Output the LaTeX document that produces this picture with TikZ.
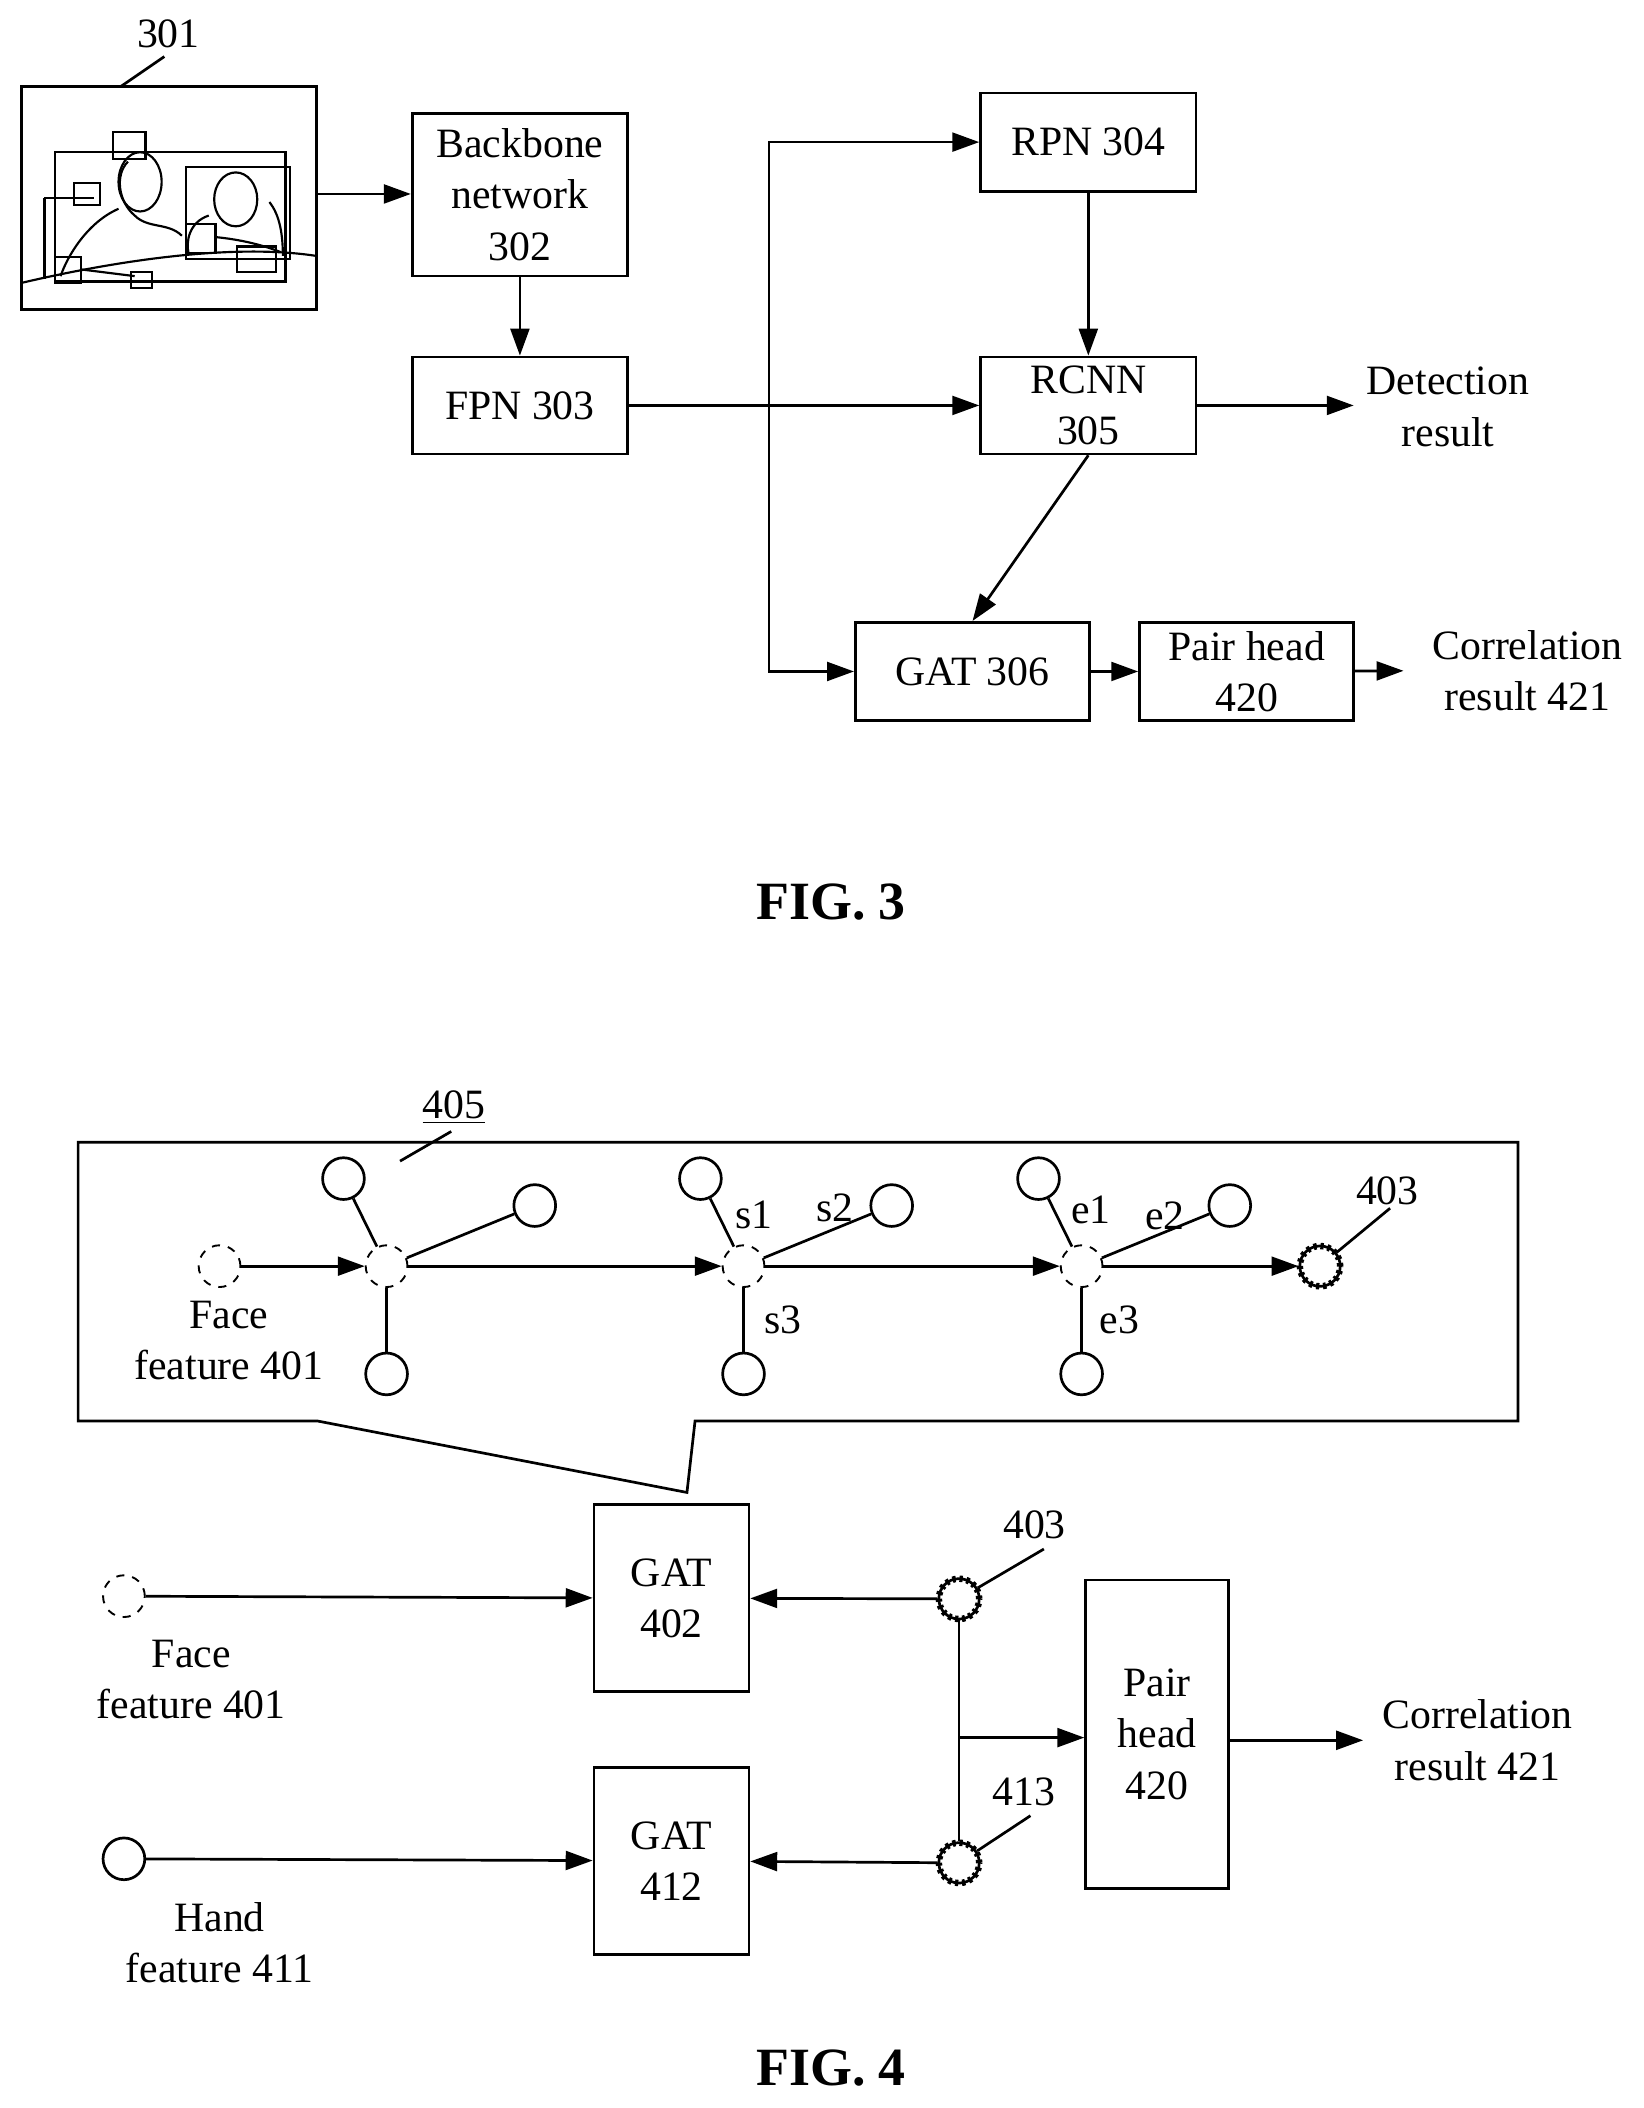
\documentclass[tikz,border=0pt]{standalone}
\usepackage{fontspec}
\setmainfont{Liberation Serif}
\usetikzlibrary{arrows.meta}
\begin{document}
\begin{tikzpicture}[x=0.5pt,y=0.5pt,yscale=-1,xscale=1,
    every node/.style={font=\fontsize{15.5}{19}\selectfont},
    blk/.style={draw,line width=1pt,inner sep=0pt,align=center},
    lbl/.style={align=center,inner sep=0.75pt},
    arr/.style={line width=1pt,-{Triangle[length=10pt,width=7pt]}},
    ln/.style={line width=1pt},
    dnode/.style={circle,draw,dashed,line width=0.7pt,minimum size=15.5pt,inner sep=0pt},
    onode/.style={circle,draw,line width=1pt,minimum size=15.5pt,inner sep=0pt},
    gnode/.style={circle,draw,line width=1pt,minimum size=15pt,inner sep=0pt,
      postaction={draw,line width=2.4pt,dash pattern=on 1.2pt off 1.4pt}}]
    \useasboundingbox (0,0) rectangle (1220,1565);

    %FIG. 3
    % Shape: image 301
    \node (img) [blk,minimum width=109.5pt,minimum height=83pt] at (125.5,147) {};
    \begin{scope}[line width=0.8pt]
      \draw (41,113) rectangle (212,209) (138,124) rectangle (215,192) (84,98) rectangle (108,118);
      \draw (55,136) rectangle (74,152) (41,191) rectangle (60,210) (97,202) rectangle (113,214);
      \draw (138,166) rectangle (160,188) (176,183) rectangle (205,202) (33,147) -- (70,147) (33,147) -- (33,207);
      \draw (16,210) .. controls (80,195) and (170,180) .. (235,190);
      \draw (95,120) .. controls (85,130) and (88,150) .. (100,160) .. controls (110,170) and (125,165) .. (135,175);
      \draw (88,155) .. controls (65,165) and (50,190) .. (45,205) (60,200) -- (100,205);
      \draw (155,160) .. controls (140,165) and (138,180) .. (140,188);
      \draw (175,148) circle [x radius=8pt,y radius=10pt] (104,135) circle [x radius=8pt,y radius=11pt];
      \draw (160,176) .. controls (180,178) and (195,182) .. (208,187) (200,150) .. controls (208,160) and (210,175) .. (210,190);
    \end{scope}
    \node (n301) [lbl] at (125,25) {301};
    \draw [ln] (90,64) -- (122,42);
    % Blocks
    \node (bb) [blk,minimum width=80pt,minimum height=60.5pt] at (386,144.5) {Backbone\\network\\302};
    \node (fpn) [blk,minimum width=80pt,minimum height=36pt] at (386,301) {FPN 303};
    \node (rpn) [blk,minimum width=80pt,minimum height=36.5pt] at (808,105.5) {RPN 304};
    \node (rcnn) [blk,minimum width=80pt,minimum height=36pt] at (808,301) {RCNN\\305};
    \node (gat) [blk,minimum width=87pt,minimum height=36.5pt] at (722,498.5) {GAT 306};
    \node (ph) [blk,minimum width=79.5pt,minimum height=36.5pt] at (925.5,498.5) {Pair head\\420};
    \node (det) [lbl] at (1075,302) {Detection\\result};
    \node (cor) [lbl] at (1134,498) {Correlation\\result 421};
    \coordinate (detin) at (1005,301);
    \coordinate (corin) at (1042,498);
    \coordinate (sp) at (571,301);
    % Connectors
    \draw [arr] (img.east |- 0,144) -- (bb.west |- 0,144);
    \draw [arr] (bb) -- (fpn);
    \draw [arr] (fpn) -- (rcnn);
    \draw [arr] (sp) |- (rpn);
    \draw [arr] (sp) |- (gat);
    \draw [arr] (rpn) -- (rcnn);
    \draw [arr] (rcnn) -- (detin);
    \draw [arr] (rcnn.south) -- (gat.north);
    \draw [arr] (gat) -- (ph);
    \draw [arr] (ph) -- (corin);
    \node (f3) at (617,670) {\fontsize{20}{24}\selectfont\bfseries FIG. 3};

    %FIG. 4
    % Callout 405
    \draw [ln] (58,848) -- (1127,848) -- (1127,1055) -- (516,1055) -- (510,1108) -- (236,1055) -- (58,1055) -- cycle;
    \node (n405) [lbl] at (337,822) {\underline{405}};
    \draw [ln] (297,862) -- (335,840);
    \node (in) [dnode] at (163,940) {};
    \node (inl) [lbl] at (170,995) {Face\\feature 401};
    \foreach \cx/\nm in {287/a,552/s,803/e}{
      \node (c\nm) [dnode] at (\cx,940) {};
      \node (u\nm) [onode] at (\cx-32,875) {};
      \node (r\nm) [onode] at (\cx+110,895) {};
      \node (d\nm) [onode] at (\cx,1020) {};
      \draw [ln] (c\nm) -- (u\nm);
      \draw [ln] (c\nm) -- (r\nm);
      \draw [ln] (c\nm) -- (d\nm);
    }
    \node [lbl] at (560,902) {s1};
    \node [lbl] at (620,897) {s2};
    \node [lbl] at (581,980) {s3};
    \node [lbl] at (810,898) {e1};
    \node [lbl] at (865,903) {e2};
    \node [lbl] at (831,980) {e3};
    \node (out) [gnode] at (980,940) {};
    \node (o403) [lbl] at (1030,884) {403};
    \draw [ln] (out) -- (1032,897);
    \draw [arr] (in) -- (ca);
    \draw [arr] (ca) -- (cs);
    \draw [arr] (cs) -- (ce);
    \draw [arr] (ce) -- (out);
    % Lower part
    \node (face) [dnode] at (92,1185) {};
    \node (facel) [lbl] at (142,1247) {Face\\feature 401};
    \node (hand) [onode] at (92,1380) {};
    \node (handl) [lbl] at (163,1442) {Hand\\feature 411};
    \node (g402) [blk,minimum width=57.5pt,minimum height=69.5pt] at (498.5,1186.5) {GAT\\402};
    \node (g412) [blk,minimum width=57.5pt,minimum height=69.5pt] at (498.5,1381.5) {GAT\\412};
    \node (f403) [gnode] at (712,1187) {};
    \node (f413) [gnode] at (712,1383) {};
    \node (l403) [lbl] at (768,1132) {403};
    \node (l413) [lbl] at (760,1330) {413};
    \draw [ln] (f403) -- (775,1150);
    \draw [ln] (f413) -- (765,1348);
    \node (ph4) [blk,minimum width=53pt,minimum height=114.5pt] at (859,1287.5) {Pair\\head\\420};
    \node (cor4) [lbl] at (1097,1292) {Correlation\\result 421};
    \coordinate (br) at (712,1290);
    \coordinate (cor4in) at (1012,1292);
    \draw [arr] (face) -- (g402);
    \draw [arr] (hand) -- (g412);
    \draw [arr] (f403) -- (g402);
    \draw [arr] (f413) -- (g412);
    \draw [ln] (f403) -- (f413);
    \draw [arr] (br) -- (ph4.west |- br);
    \draw [arr] (ph4.east |- cor4in) -- (cor4in);
    \node (f4) at (617,1535) {\fontsize{20}{24}\selectfont\bfseries FIG. 4};
\end{tikzpicture}
\end{document}
